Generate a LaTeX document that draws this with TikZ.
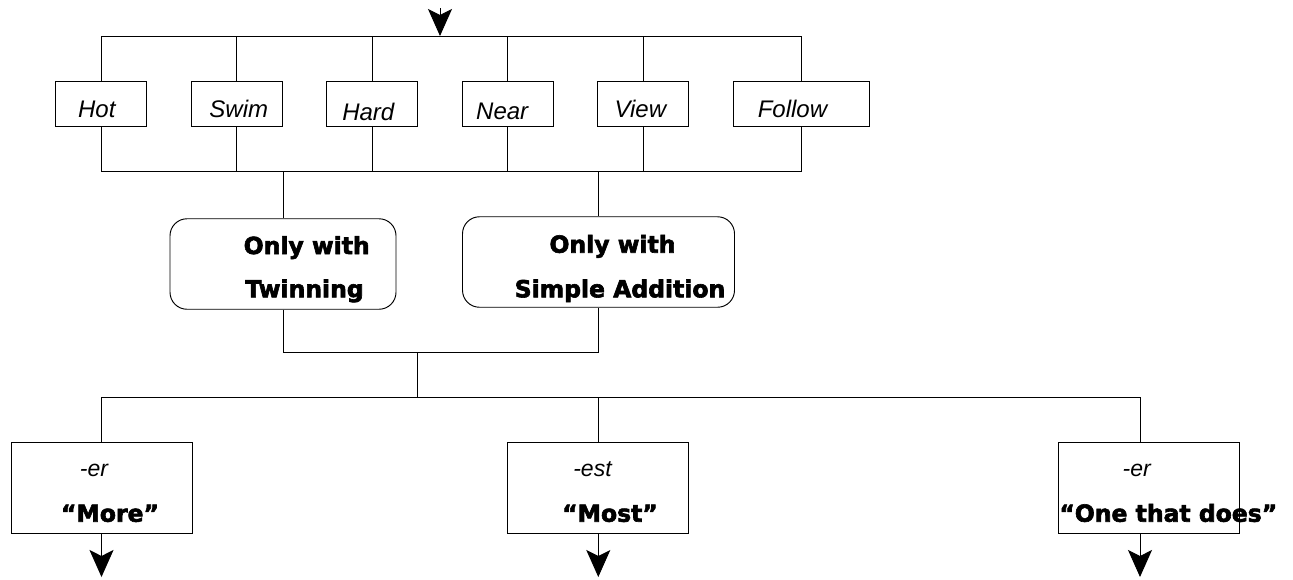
\documentclass[tikz,border=0pt]{standalone}
\usepackage{fontspec}
\setmainfont{Liberation Sans}
\newfontfamily\heavy{DejaVu Sans}[BoldFeatures={FakeBold=2.6}]
\usetikzlibrary{arrows.meta}
\begin{document}
\begin{tikzpicture}[x=1pt,y=-1pt,
  conn/.style={line width=0.95pt},
  arr/.style={conn,-{Stealth[length=27pt,width=24pt,inset=6pt]}},
  wbox/.style={draw,line width=0.95pt,minimum width=91pt,minimum height=45pt,inner sep=0pt},
  rbox/.style={draw,line width=0.95pt,rounded corners=17pt,minimum height=90.5pt,inner sep=0pt},
  obox/.style={draw,line width=0.95pt,minimum width=181pt,minimum height=91pt,inner sep=0pt},
  wtxt/.style={font=\fontsize{24}{28}\selectfont\itshape,anchor=base,inner sep=0pt},
  stxt/.style={font=\fontsize{23}{27}\selectfont\itshape,anchor=base,inner sep=0pt},
  btxt/.style={font=\heavy\bfseries\fontsize{23.5}{27}\selectfont,anchor=base,inner sep=0pt}]
\useasboundingbox (0,0) rectangle (1293,579);

% word boxes
\node[wbox] (hot) at (101.2,103.5) {};
\node[wbox] (swim) at (236.8,103.5) {};
\node[wbox] (hard) at (372.3,103.5) {};
\node[wbox] (near) at (507.8,103.5) {};
\node[wbox] (view) at (643.3,103.5) {};
\node[wbox,minimum width=136pt] (follow) at (801.3,103.5) {};
\node[wtxt] (hott) at (96.8,117.3) {Hot};
\node[wtxt] (swimt) at (238.8,117.3) {Swim};
\node[wtxt] (hardt) at (368.3,120) {Hard};
\node[wtxt] (neart) at (502.2,119.3) {Near};
\node[wtxt] (viewt) at (640.3,117.3) {View};
\node[wtxt] (followt) at (792.5,117.3) {Follow};

% rounded boxes
\node[rbox,minimum width=226pt] (twin) at (283,264) {};
\node[rbox,minimum width=272pt] (simple) at (598.5,262) {};
\node[btxt] (twint1) at (306.7,254) {Only with};
\node[btxt] (twint2) at (304.5,297.3) {Twinning};
\node[btxt] (simt1) at (612.5,252.7) {Only with};
\node[btxt] (simt2) at (620,297.3) {Simple Addition};

% output boxes
\node[obox] (more) at (101.5,487.5) {};
\node[obox] (most) at (598.3,487.5) {};
\node[obox] (does) at (1149,487.5) {};
\node[stxt] (moret1) at (94,476.7) {-er};
\node[btxt] (moret2) at (110,521.7) {“More”};
\node[stxt] (mostt1) at (592.5,476.7) {-est};
\node[btxt] (mostt2) at (610,521.7) {“Most”};
\node[stxt] (doest1) at (1136.7,476.7) {-er};
\node[btxt] (doest2) at (1168.3,521.7) {“One that does”};

% connectors
\coordinate (tin) at (440,8);
\coordinate (tbus) at (440,36);
\coordinate (mbus) at (440,171.5);
\coordinate (jbus) at (417,352);
\coordinate (lbus) at (417,397);
\coordinate (o1) at (101.5,577);
\coordinate (o2) at (598.3,577);
\coordinate (o3) at (1140,577);

\draw[arr] (tin) -- (tbus);
\draw[conn] (hot.north) |- (follow.north |- tbus) -- (follow.north);
\foreach \n in {swim,hard,near,view}{\draw[conn] (\n.north) -- (\n.north |- tbus);}
\draw[conn] (hot.south) |- (follow.south |- mbus) -- (follow.south);
\foreach \n in {swim,hard,near,view}{\draw[conn] (\n.south) -- (\n.south |- mbus);}
\draw[conn] (twin.north) -- (twin.north |- mbus);
\draw[conn] (simple.north) -- (simple.north |- mbus);
\draw[conn] (twin.south) |- (simple.south |- jbus) -- (simple.south);
\draw[conn] (jbus) -- (lbus);
\draw[conn] (more.north) |- ([xshift=-9pt]does.north |- lbus) -- ([xshift=-9pt]does.north);
\draw[conn] (most.north) -- (most.north |- lbus);
\draw[arr] (more.south) -- (o1);
\draw[arr] (most.south) -- (o2);
\draw[arr] ([xshift=-9pt]does.south) -- (o3);
\end{tikzpicture}
\end{document}
